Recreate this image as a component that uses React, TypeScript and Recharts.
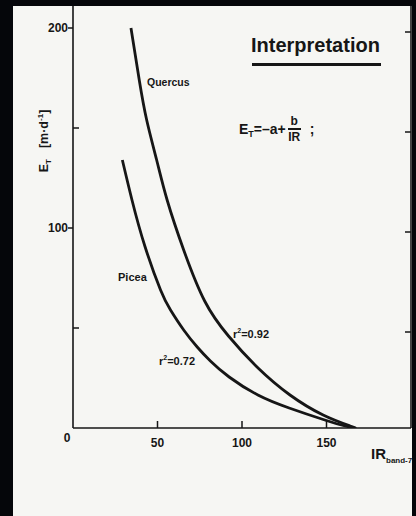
import { LineChart, Line, XAxis, YAxis } from 'recharts'

// values
const quercusIR = [34.3, 39.2, 43.6, 49.5, 55.7, 65.5, 77.9, 92, 109.5, 128.4, 148, 164, 167]
const quercusE = [200, 174, 154, 134, 114, 89, 63.5, 46, 30, 16.5, 6.5, 1, 0]
const piceaIR = [29.2, 34.9, 42.5, 51.8, 57.7, 65.5, 73.5, 81.3, 92.4, 109.4, 127.9, 149, 161, 167]
const piceaE = [134, 114, 91, 69, 59, 49, 40.5, 33.5, 25.5, 16.5, 10, 4, 1, 0]

const xTicks = [0, 50, 100, 150]
const yTicks = [50, 100, 150, 200]
const frameTicks = [50, 100, 150]
const xDomain = [0, 200]
const yDomain = [0, 212]

const quercus = quercusIR.map((ir, i) => ({ ir, e: quercusE[i] }))
const picea = piceaIR.map((ir, i) => ({ ir, e: piceaE[i] }))

const INK = '#161616'
const PAPER = '#f6f6f3'
const FONT = '"Liberation Sans", Arial, sans-serif'

const labelStyle = { fontFamily: FONT, fontWeight: 700, fill: INK } as const

function BottomTick({ x, y, payload }: any) {
  const v = payload.value
  if (v === 0) {
    return (
      <text x={x - 6} y={y + 10} textAnchor="middle" dominantBaseline="central" fontSize={12} style={labelStyle}>
        0
      </text>
    )
  }
  return (
    <g>
      <line x1={x} x2={x} y1={y} y2={y - 7} stroke={INK} strokeWidth={1.5} />
      <text x={x} y={y + 15} textAnchor="middle" dominantBaseline="central" fontSize={12} style={labelStyle}>
        {v}
      </text>
    </g>
  )
}

function LeftTick({ x, y, payload }: any) {
  const v = payload.value
  const major = v % 100 === 0
  return (
    <g>
      <line x1={major ? x - 5 : x} x2={major ? x : x + 6} y1={y} y2={y} stroke={INK} strokeWidth={1.5} />
      {major && (
        <text x={x - 5} y={y} textAnchor="end" dominantBaseline="central" fontSize={12} style={labelStyle}>
          {v}
        </text>
      )}
    </g>
  )
}

function RightTick({ x, y }: any) {
  return <line x1={x} x2={x - 6} y1={y + 4} y2={y + 4} stroke={INK} strokeWidth={1.5} />
}

function TopTick({ x, y }: any) {
  return <line x1={x} x2={x} y1={y} y2={y + 8} stroke={INK} strokeWidth={1.5} />
}

const abs = (left: number, top: number, extra: any = {}) => ({
  position: 'absolute' as const,
  left,
  top,
  fontFamily: FONT,
  fontWeight: 700,
  color: INK,
  whiteSpace: 'nowrap' as const,
  lineHeight: 1,
  ...extra,
})

export default function App() {
  return (
    <div style={{ position: 'absolute', left: 0, top: 0, width: 416, height: 516, background: '#05060a', overflow: 'hidden' }}>
      <div style={{ position: 'absolute', left: 13, top: 6, width: 399, height: 510, background: PAPER }} />
      <div style={{ position: 'absolute', left: 0, top: 0 }}>
        <LineChart width={416} height={516} margin={{ top: 3, right: 4, bottom: 87, left: 72 }}>
          <XAxis
            dataKey="ir"
            type="number"
            domain={xDomain}
            ticks={xTicks}
            interval={0}
            height={1}
            tickSize={0}
            tickMargin={0}
            tickLine={false}
            tick={<BottomTick />}
            axisLine={{ stroke: INK, strokeWidth: 1.6 }}
            allowDataOverflow
          />
          <XAxis
            xAxisId="top"
            orientation="top"
            type="number"
            domain={xDomain}
            ticks={frameTicks}
            interval={0}
            height={1}
            tickSize={0}
            tickMargin={0}
            tickLine={false}
            tick={<TopTick />}
            axisLine={{ stroke: INK, strokeWidth: 1.6 }}
            allowDataOverflow
          />
          <YAxis
            type="number"
            domain={yDomain}
            ticks={yTicks}
            interval={0}
            width={1}
            tickSize={0}
            tickMargin={0}
            tickLine={false}
            tick={<LeftTick />}
            axisLine={{ stroke: INK, strokeWidth: 1.6 }}
            allowDataOverflow
          />
          <YAxis
            yAxisId="right"
            orientation="right"
            type="number"
            domain={yDomain}
            ticks={yTicks}
            interval={0}
            width={1}
            tickSize={0}
            tickMargin={0}
            tickLine={false}
            tick={<RightTick />}
            axisLine={{ stroke: INK, strokeWidth: 1.6 }}
            allowDataOverflow
          />
          <Line data={quercus} dataKey="e" type="natural" stroke={INK} strokeWidth={2.8} dot={false} isAnimationActive={false} />
          <Line data={picea} dataKey="e" type="natural" stroke={INK} strokeWidth={2.8} dot={false} isAnimationActive={false} />
        </LineChart>
      </div>

      {/* scan border */}
      <div style={{ position: 'absolute', left: 0, top: 0, width: 416, height: 6, background: '#05060a' }} />
      <div style={{ position: 'absolute', left: 412, top: 0, width: 4, height: 516, background: '#05060a' }} />

      {/* annotations */}
      <div style={abs(251, 35, { fontSize: 20 })}>Interpretation</div>
      <div style={{ position: 'absolute', left: 252, top: 63, width: 129, height: 2.5, background: INK }} />

      <div style={abs(239, 117, { fontSize: 14, display: 'flex', alignItems: 'center', height: 24 })}>
        <span>E</span>
        <span style={{ fontSize: 9, position: 'relative', top: 5 }}>T</span>
        <span>=–a+</span>
        <span style={{ display: 'inline-flex', flexDirection: 'column', alignItems: 'center', margin: '0 2px', fontSize: 12 }}>
          <span>b</span>
          <span style={{ width: 13, height: 1.5, background: INK, margin: '1px 0' }} />
          <span>IR</span>
        </span>
        <span style={{ marginLeft: 7 }}>;</span>
      </div>

      <div style={abs(147, 77, { fontSize: 10.5 })}>Quercus</div>
      <div style={abs(118, 272, { fontSize: 11 })}>Picea</div>
      <div style={abs(159, 354, { fontSize: 11 })}>
        r<sup style={{ fontSize: 7 }}>2</sup>=0.72
      </div>
      <div style={abs(233, 327, { fontSize: 11 })}>
        r<sup style={{ fontSize: 7 }}>2</sup>=0.92
      </div>

      <div style={abs(45, 141, { fontSize: 12.5, transform: 'translate(-50%, -50%) rotate(-90deg)' })}>
        E<sub style={{ fontSize: 8 }}>T</sub>
        <span style={{ marginLeft: 11 }}>
          [m·d<sup style={{ fontSize: 8 }}>-1</sup>]
        </span>
      </div>

      <div style={abs(371, 446, { fontSize: 15 })}>
        IR<sub style={{ fontSize: 8 }}>band-7</sub>
      </div>
    </div>
  )
}
